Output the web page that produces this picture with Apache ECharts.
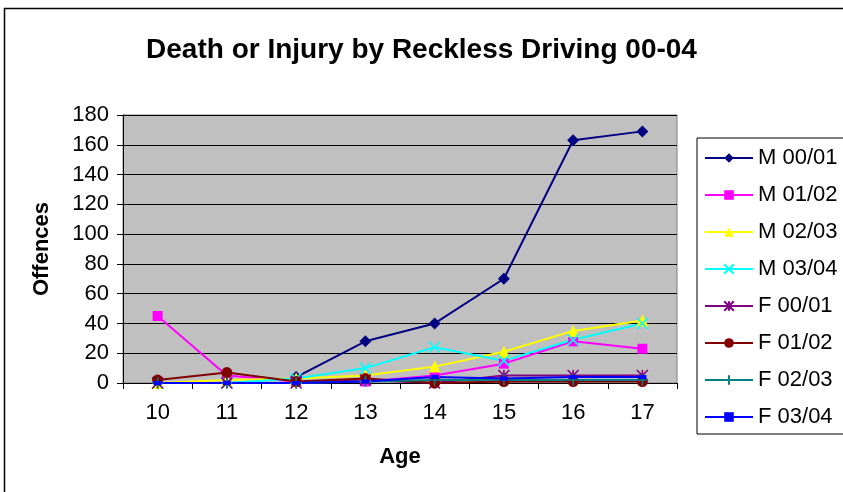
<!DOCTYPE html>
<html>
<head>
<meta charset="utf-8">
<script src="https://cdn.jsdelivr.net/npm/echarts@6/dist/echarts.min.js"></script>
<style>
  html, body { margin: 0; padding: 0; background: #fff; }
  #ChartDIV { width: 843px; height: 492px; }
</style>
</head>
<body>
<div id="ChartDIV"></div>
<script>
// ages along the x axis
var ages = ['10', '11', '12', '13', '14', '15', '16', '17'];
var yTicks = [0, 20, 40, 60, 80, 100, 120, 140, 160, 180];

var seriesNames = ['M 00/01', 'M 01/02', 'M 02/03', 'M 03/04', 'F 00/01', 'F 01/02', 'F 02/03', 'F 03/04'];

var m0001 = [null, null, 4, 28, 40, 70, 163, 169];
var m0102 = [45, 5, 1, 1, 5, 13, 28, 23];
var m0203 = [0, 2, 3, 5, 11, 21, 35, 42];
var m0304 = [0, 0, 3, 10, 24, 15, 29, 40];
var f0001 = [0, 0, 0, 2, 0, 5, 5, 5];
var f0102 = [2, 7, 1, 3, 0, 1, 1, 1];
var f0203 = [0, 0, 0, 1, 2, 2, 2, 2];
var f0304 = [0, 0, 0, 1, 4, 3, 4, 4];

var seriesData = [m0001, m0102, m0203, m0304, f0001, f0102, f0203, f0304];
var colors = ['#000080', '#FF00FF', '#FFFF00', '#00FFFF', '#800080', '#800000', '#008080', '#0000FF'];

var symbols = [
    { symbol: 'diamond', size: 12, border: 0 },
    { symbol: 'rect', size: 10, border: 0 },
    { symbol: 'triangle', size: 12, border: 0 },
    { symbol: 'path://M0,0 L10,10 M10,0 L0,10', size: 11, border: 1.6 },
    { symbol: 'path://M5,0 L5,10 M0,0 L10,10 M10,0 L0,10', size: 11, border: 1.6 },
    { symbol: 'circle', size: 11, border: 0 },
    { symbol: 'path://M5,0 L5,10 M0,5 L10,5', size: 11, border: 1.6 },
    { symbol: 'rect', size: [8, 4], border: 0 }
];

var fontFamily = 'Arial, "Liberation Sans", sans-serif';

var myChart = echarts.init(document.getElementById('ChartDIV'));

var option = {
    animation: false,
    backgroundColor: '#ffffff',
    graphic: [{
        type: 'rect',
        shape: { x: 4.5, y: 8.5, width: 900, height: 600 },
        style: { fill: 'none', stroke: '#000', lineWidth: 1.5 },
        silent: true
    }],
    title: {
        text: 'Death or Injury by Reckless Driving 00-04',
        left: 'center',
        top: 31,
        textStyle: { fontFamily: fontFamily, fontSize: 28, fontWeight: 'bold', color: '#000' }
    },
    legend: {
        orient: 'vertical',
        left: 697,
        top: 138,
        data: seriesNames,
        itemWidth: 48,
        itemHeight: 12,
        itemGap: 13,
        padding: [8, 60, 5, 7],
        borderColor: '#000',
        borderWidth: 1,
        backgroundColor: '#fff',
        textStyle: { fontFamily: fontFamily, fontSize: 22, color: '#000', lineHeight: 24 }
    },
    grid: {
        left: 123,
        right: 166,
        top: 115,
        bottom: 109,
        show: true,
        backgroundColor: '#C0C0C0',
        borderColor: '#808080',
        borderWidth: 1
    },
    xAxis: {
        type: 'category',
        data: ages,
        boundaryGap: true,
        name: 'Age',
        nameLocation: 'middle',
        nameGap: 63,
        nameTextStyle: { fontFamily: fontFamily, fontSize: 22, fontWeight: 'bold', color: '#000' },
        axisLine: { lineStyle: { color: '#000', width: 1 } },
        axisTick: { show: true, length: 6, lineStyle: { color: '#000' } },
        axisLabel: { fontFamily: fontFamily, fontSize: 22, color: '#000', margin: 19 },
        splitLine: { show: false }
    },
    yAxis: {
        type: 'value',
        min: yTicks[0],
        max: yTicks[yTicks.length - 1],
        interval: 20,
        name: 'Offences',
        nameLocation: 'middle',
        nameGap: 70,
        nameRotate: 90,
        nameTextStyle: { fontFamily: fontFamily, fontSize: 22, fontWeight: 'bold', color: '#000' },
        axisLine: { show: true, lineStyle: { color: '#000', width: 1 } },
        axisTick: { show: true, length: 6, inside: false, lineStyle: { color: '#000' } },
        axisLabel: { fontFamily: fontFamily, fontSize: 22, color: '#000', margin: 14 },
        splitLine: { show: true, lineStyle: { color: '#000', width: 1 } }
    },
    series: seriesNames.map(function (name, i) {
        return {
            name: name,
            type: 'line',
            data: seriesData[i],
            symbol: symbols[i].symbol,
            symbolSize: symbols[i].size,
            showSymbol: true,
            connectNulls: false,
            lineStyle: { color: colors[i], width: 2 },
            itemStyle: {
                color: symbols[i].border ? 'rgba(0,0,0,0)' : colors[i],
                borderColor: colors[i],
                borderWidth: symbols[i].border
            },
            emphasis: { disabled: true }
        };
    })
};

myChart.setOption(option);
</script>
</body>
</html>
